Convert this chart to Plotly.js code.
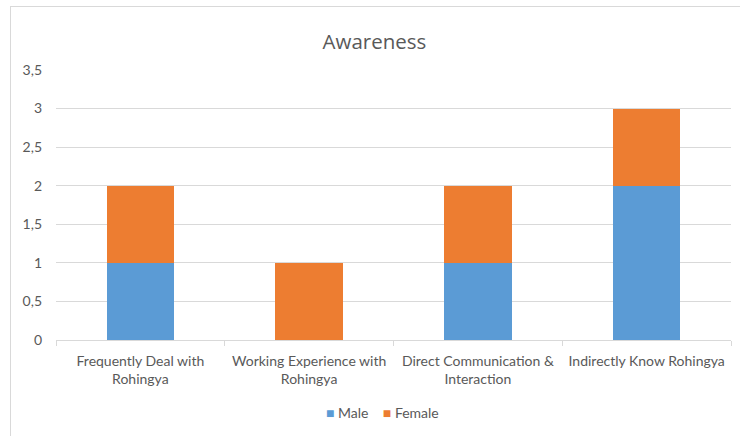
<!DOCTYPE html>
<html>
<head>
<meta charset="utf-8">
<script src="https://cdn.plot.ly/plotly-3.0.1.min.js"></script>
<style>
  html, body { margin: 0; padding: 0; background: #ffffff; overflow: hidden; }
  #wrap { position: relative; width: 740px; height: 436px; }
  #chart { position: absolute; left: 0; top: 0; width: 740px; height: 436px; }
  #frame { position: absolute; left: 10px; top: 6px; width: 740px; height: 440px;
           border: 1px solid #d9d9d9; box-sizing: border-box; pointer-events: none; }
</style>
</head>
<body>
<div id="wrap">
  <div id="chart"></div>
  <div id="frame"></div>
</div>
<script>
// Awareness by category, stacked Male / Female counts
const categories = [
  "Frequently Deal with Rohingya",
  "Working Experience with Rohingya",
  "Direct Communication & Interaction",
  "Indirectly Know Rohingya"
];
const tickLabels = [
  "Frequently Deal with<br>Rohingya",
  "Working Experience with<br>Rohingya",
  "Direct Communication &<br>Interaction",
  "Indirectly Know Rohingya"
];
const seriesNames = ["Male", "Female"];
const seriesColors = ["#5b9bd5", "#ed7d31"];
const maleValues = [1, 0, 1, 2];
const femaleValues = [1, 1, 1, 1];

const textGray = "#595959";
const gridGray = "#d9d9d9";
const fontFamily = "Lato, 'Open Sans', sans-serif";

const seriesValues = [maleValues, femaleValues];
const traces = seriesNames.map((name, i) => ({
  type: "bar",
  name: name,
  x: categories,
  y: seriesValues[i],
  marker: { color: seriesColors[i] },
  hoverinfo: "x+y+name"
}));

// compact key under the axis: coloured square followed by series name
const keyText = seriesNames
  .map((name, i) => `<span style="color:${seriesColors[i]}">■</span> ${name}`)
  .join("&nbsp;&nbsp;&nbsp;&nbsp;");

const layout = {
  width: 740,
  height: 436,
  margin: { l: 56, r: 9, t: 70, b: 96 },
  paper_bgcolor: "#ffffff",
  plot_bgcolor: "#ffffff",
  barmode: "stack",
  bargap: 0.6,
  separators: ",.",
  font: { family: fontFamily, color: textGray, size: 14 },
  title: {
    text: "Awareness",
    font: { family: "'Open Sans', Lato, sans-serif", size: 20.5, color: textGray },
    xref: "container",
    x: 0.506,
    xanchor: "center",
    yref: "container",
    y: 0.904,
    yanchor: "middle"
  },
  xaxis: {
    type: "category",
    tickvals: categories,
    ticktext: tickLabels,
    tickson: "boundaries",
    ticks: "outside",
    ticklen: 5,
    tickcolor: gridGray,
    tickwidth: 1,
    showline: true,
    linecolor: gridGray,
    linewidth: 1,
    showgrid: false,
    zeroline: false,
    ticklabelstandoff: 8,
    tickfont: { family: fontFamily, size: 14, color: textGray },
    fixedrange: true
  },
  yaxis: {
    range: [0, 3.5],
    dtick: 0.5,
    tick0: 0,
    showgrid: true,
    gridcolor: gridGray,
    gridwidth: 1,
    zeroline: false,
    showline: false,
    ticks: "",
    ticklabelstandoff: 13,
    tickfont: { family: fontFamily, size: 14, color: textGray },
    fixedrange: true
  },
  showlegend: false,
  annotations: [{
    text: keyText,
    xref: "paper",
    yref: "paper",
    x: 0.484,
    y: -0.27,
    xanchor: "center",
    yanchor: "middle",
    showarrow: false,
    font: { family: fontFamily, size: 14, color: textGray }
  }]
};

Plotly.newPlot("chart", traces, layout, { displayModeBar: false, staticPlot: true });
</script>
</body>
</html>
